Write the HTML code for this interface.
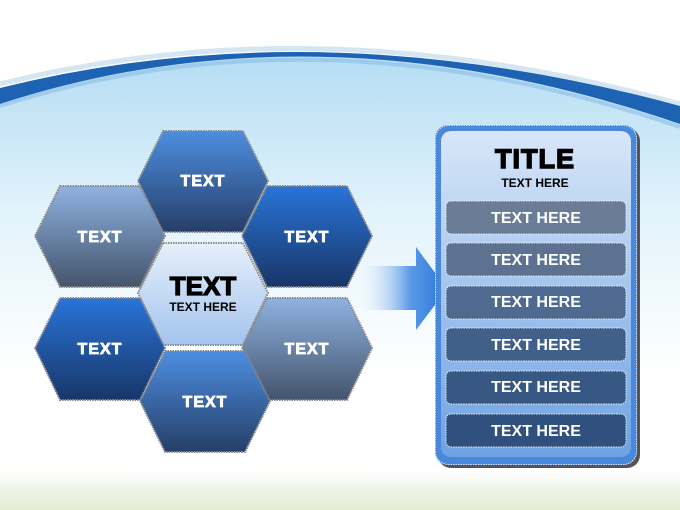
<!DOCTYPE html>
<html><head><meta charset="utf-8"><style>
html,body{margin:0;padding:0;width:680px;height:510px;overflow:hidden;background:#fff}
svg{display:block}
text{font-family:"Liberation Sans",sans-serif;font-weight:bold}
</style></head><body>
<svg width="680" height="510" viewBox="0 0 680 510" xmlns="http://www.w3.org/2000/svg">
<defs>
<linearGradient id="sky" x1="0" y1="0" x2="0" y2="1">
<stop offset="0" stop-color="#b4dcf4"/><stop offset="0.35" stop-color="#e2f3fb"/><stop offset="0.7" stop-color="#ffffff"/><stop offset="1" stop-color="#ffffff"/></linearGradient>
<linearGradient id="grass" x1="0" y1="0" x2="0" y2="1">
<stop offset="0" stop-color="#f4f8ee" stop-opacity="0"/><stop offset="0.5" stop-color="#eef3e4"/><stop offset="1" stop-color="#e4edd4"/></linearGradient>
<linearGradient id="gA" x1="0" y1="0" x2="0" y2="1"><stop offset="0" stop-color="#4e8ee0"/><stop offset="1" stop-color="#253f68"/></linearGradient>
<linearGradient id="gB" x1="0" y1="0" x2="0" y2="1"><stop offset="0" stop-color="#8eb2e0"/><stop offset="1" stop-color="#44546c"/></linearGradient>
<linearGradient id="gC" x1="0" y1="0" x2="0" y2="1"><stop offset="0" stop-color="#2a74d8"/><stop offset="1" stop-color="#183668"/></linearGradient>
<linearGradient id="gM" x1="0" y1="0" x2="0" y2="1"><stop offset="0" stop-color="#e6effa"/><stop offset="1" stop-color="#a4c4ee"/></linearGradient>
<linearGradient id="arr" x1="0" y1="0" x2="1" y2="0"><stop offset="0" stop-color="#ffffff" stop-opacity="0"/><stop offset="0.6" stop-color="#5a9ae6"/><stop offset="1" stop-color="#2a74dc"/></linearGradient>
<linearGradient id="pan" x1="0" y1="0" x2="0" y2="1"><stop offset="0" stop-color="#d8e6f8"/><stop offset="1" stop-color="#6ea2e4"/></linearGradient>
</defs>
<rect width="680" height="510" fill="#fff"/>
<path d="M0 92 Q320 4 680 112 L680 510 L0 510 Z" fill="url(#sky)"/>
<rect x="0" y="470" width="680" height="40" fill="url(#grass)"/>
<path d="M0 84 Q320 4 680 104" fill="none" stroke="#d4e6f2" stroke-width="5"/>
<path d="M0 88 Q320 8 680 106 L680 124 Q320 0 0 104 Z" fill="#1e62b4"/>
<path d="M0 106 Q320 4 680 127" fill="none" stroke="#8cbce4" stroke-width="4" opacity="0.6"/>
<polygon points="355,266 416,266 416,247 447,289 416,330 416,310 355,310" fill="url(#arr)"/>
<g stroke="#888" stroke-width="2" stroke-dasharray="1.5 1">
<polygon points="163,131 243,131 268,181 243,232 163,232 138,181" fill="url(#gA)"/>
<polygon points="60,186 140,186 165,236 140,287 60,287 35,236" fill="url(#gB)"/>
<polygon points="267,186 347,186 372,236 347,287 267,287 242,236" fill="url(#gC)"/>
<polygon points="163,243 243,243 268,293 243,345 163,345 138,293" fill="url(#gM)"/>
<polygon points="60,298 140,298 165,348 140,400 60,400 35,348" fill="url(#gC)"/>
<polygon points="267,298 347,298 372,348 347,400 267,400 242,348" fill="url(#gB)"/>
<polygon points="165,351 245,351 270,401 245,452 165,452 140,401" fill="url(#gA)"/>
</g>
<g fill="#fff" stroke="#fff" stroke-width="0.8" font-size="16" letter-spacing="1" text-anchor="middle">
<text x="203" y="186">TEXT</text>
<text x="100" y="242">TEXT</text>
<text x="307" y="242">TEXT</text>
<text x="100" y="354">TEXT</text>
<text x="307" y="354">TEXT</text>
<text x="205" y="407">TEXT</text>
</g>
<text x="203" y="295" font-size="26" text-anchor="middle" fill="#000" stroke="#000" stroke-width="1.2">TEXT</text>
<text x="203" y="311" font-size="12" text-anchor="middle" fill="#000">TEXT HERE</text>
<rect x="438" y="128" width="202" height="340" rx="13" fill="#555"/>
<rect x="435" y="125" width="202" height="340" rx="13" fill="#4a88dc"/>
<rect x="441" y="131" width="190" height="326" rx="10" fill="url(#pan)"/>
<rect x="435.5" y="125.5" width="201" height="339" rx="13" fill="none" stroke="#dde" stroke-width="1" stroke-dasharray="1.5 1"/>
<text x="535" y="168" font-size="27" letter-spacing="1" text-anchor="middle" fill="#000" stroke="#000" stroke-width="1.4">TITLE</text>
<text x="535" y="187" font-size="12" text-anchor="middle" fill="#000">TEXT HERE</text>
<g stroke="#e8eef6" stroke-width="1" stroke-dasharray="1.5 1">
<rect x="446" y="201" width="180" height="33" rx="5" fill="#6b7d96"/>
<rect x="446" y="243" width="180" height="33" rx="5" fill="#5d7290"/>
<rect x="446" y="286" width="180" height="33" rx="5" fill="#4e6a90"/>
<rect x="446" y="328" width="180" height="33" rx="5" fill="#416089"/>
<rect x="446" y="371" width="180" height="33" rx="5" fill="#385884"/>
<rect x="446" y="414" width="180" height="33" rx="5" fill="#30507e"/>
</g>
<g fill="#fff" font-size="16" text-anchor="middle">
<text x="536" y="223">TEXT HERE</text>
<text x="536" y="265">TEXT HERE</text>
<text x="536" y="307">TEXT HERE</text>
<text x="536" y="350">TEXT HERE</text>
<text x="536" y="392">TEXT HERE</text>
<text x="536" y="436">TEXT HERE</text>
</g>
</svg>
</body></html>
